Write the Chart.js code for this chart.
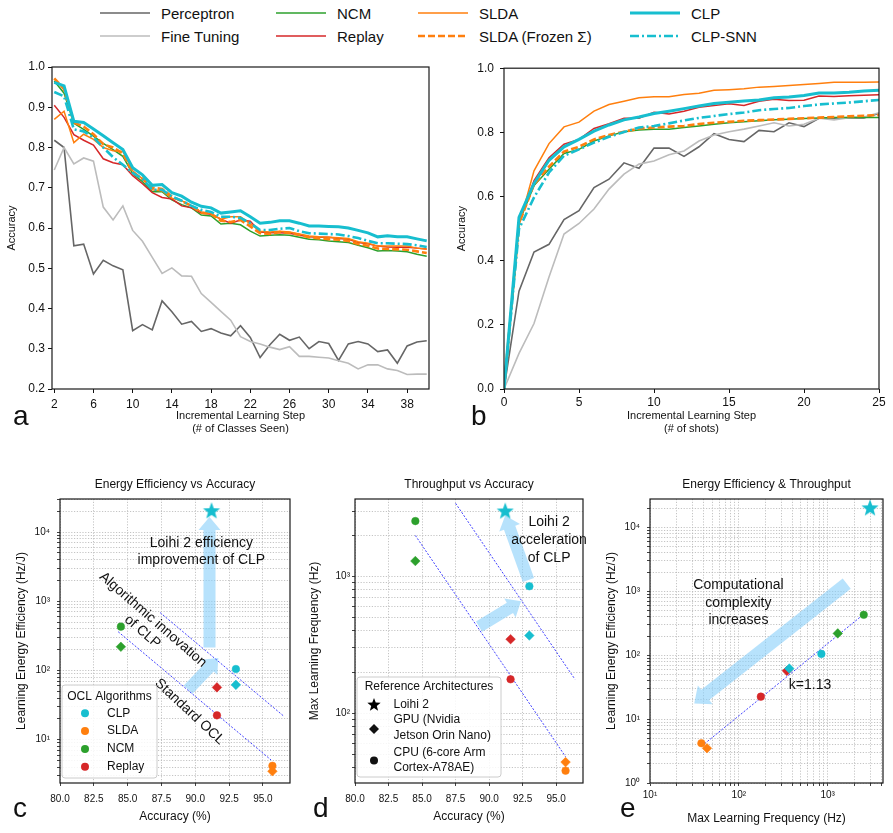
<!DOCTYPE html>
<html>
<head>
<meta charset="utf-8">
<title>Online continual learning: accuracy, efficiency, throughput</title>
<script src="https://cdn.jsdelivr.net/npm/chart.js"></script>
<style>
  body { margin: 0; background: #fff; }
  #fig { position: relative; width: 893px; height: 833px; overflow: hidden;
         font-family: "Liberation Sans", Arial, sans-serif; color: #111; }
  #fig canvas { position: absolute; }
  .key { position: absolute; height: 20px; display: flex; align-items: center; font-size: 15px; white-space: nowrap; }
  .key svg { margin-right: 11px; }
  .letter { position: absolute; font-size: 28px; line-height: 28px; }
</style>
</head>
<body>
<div id="fig">
  <canvas id="panelA" width="445" height="385" style="left:0;top:55px"></canvas>
  <canvas id="panelB" width="448" height="385" style="left:445px;top:55px"></canvas>
  <canvas id="panelC" width="300" height="363" style="left:0;top:470px"></canvas>
  <canvas id="panelD" width="293" height="363" style="left:300px;top:470px"></canvas>
  <canvas id="panelE" width="300" height="363" style="left:593px;top:470px"></canvas>
  <div class="letter" style="left:13px;top:402px">a</div>
  <div class="letter" style="left:471px;top:402px">b</div>
  <div class="letter" style="left:13px;top:794px">c</div>
  <div class="letter" style="left:313px;top:794px">d</div>
  <div class="letter" style="left:620px;top:794px">e</div>
</div>
<script>
// ---------- panel a: accuracy vs. classes seen ----------
const classSteps = [2,3,4,5,6,7,8,9,10,11,12,13,14,15,16,17,18,19,20,21,22,23,24,25,26,27,28,29,30,31,32,33,34,35,36,37,38,39,40];
const perceptronA = [0.818,0.800,0.556,0.560,0.486,0.520,0.506,0.496,0.345,0.360,0.347,0.419,0.392,0.361,0.368,0.343,0.350,0.339,0.332,0.357,0.328,0.278,0.310,0.336,0.321,0.329,0.300,0.318,0.313,0.271,0.312,0.318,0.312,0.293,0.297,0.264,0.307,0.317,0.320];
const fineTuningA = [0.744,0.800,0.759,0.774,0.766,0.652,0.620,0.655,0.594,0.567,0.527,0.487,0.501,0.481,0.480,0.437,0.415,0.393,0.371,0.330,0.318,0.312,0.304,0.298,0.305,0.281,0.281,0.279,0.277,0.270,0.264,0.250,0.260,0.260,0.250,0.246,0.236,0.237,0.237];
const ncmA = [0.965,0.935,0.860,0.845,0.828,0.810,0.795,0.778,0.735,0.715,0.690,0.690,0.670,0.658,0.650,0.632,0.630,0.610,0.612,0.608,0.592,0.580,0.582,0.583,0.582,0.577,0.572,0.571,0.568,0.566,0.564,0.557,0.551,0.543,0.544,0.543,0.541,0.535,0.530];
const replayA = [0.905,0.875,0.832,0.818,0.806,0.772,0.762,0.757,0.730,0.710,0.688,0.676,0.672,0.655,0.650,0.637,0.634,0.622,0.612,0.620,0.617,0.590,0.588,0.588,0.587,0.582,0.578,0.577,0.577,0.574,0.572,0.564,0.561,0.555,0.553,0.552,0.552,0.550,0.548];
const sldaA = [0.870,0.890,0.812,0.833,0.820,0.800,0.792,0.790,0.742,0.722,0.695,0.692,0.674,0.668,0.655,0.640,0.636,0.622,0.628,0.628,0.610,0.592,0.590,0.592,0.590,0.585,0.580,0.578,0.577,0.576,0.574,0.566,0.562,0.555,0.555,0.555,0.555,0.550,0.547];
const sldaFrozenA = [0.972,0.945,0.862,0.852,0.833,0.808,0.800,0.785,0.738,0.722,0.700,0.697,0.678,0.667,0.655,0.638,0.635,0.618,0.615,0.620,0.604,0.587,0.585,0.590,0.588,0.583,0.577,0.574,0.572,0.571,0.568,0.560,0.556,0.549,0.548,0.547,0.546,0.542,0.538];
const clpA = [0.962,0.953,0.865,0.862,0.846,0.829,0.812,0.795,0.750,0.732,0.706,0.708,0.688,0.679,0.664,0.654,0.650,0.637,0.640,0.643,0.628,0.612,0.614,0.618,0.618,0.612,0.605,0.605,0.604,0.603,0.600,0.594,0.588,0.578,0.581,0.578,0.578,0.573,0.568];
const clpSnnA = [0.938,0.927,0.845,0.840,0.825,0.800,0.776,0.757,0.737,0.722,0.695,0.695,0.678,0.668,0.655,0.645,0.640,0.628,0.628,0.625,0.612,0.595,0.595,0.598,0.600,0.592,0.587,0.586,0.585,0.584,0.580,0.575,0.568,0.562,0.562,0.561,0.560,0.557,0.553];
const classTicks = [2,6,10,14,18,22,26,30,34,38];
const accTicksA = [0.2,0.3,0.4,0.5,0.6,0.7,0.8,0.9,1.0];

// ---------- panel b: accuracy vs. shots ----------
const shots = [0,1,2,3,4,5,6,7,8,9,10,11,12,13,14,15,16,17,18,19,20,21,22,23,24,25];
const perceptronB = [0,0.305,0.427,0.451,0.528,0.556,0.628,0.654,0.705,0.688,0.751,0.751,0.725,0.755,0.796,0.778,0.771,0.806,0.802,0.830,0.818,0.844,0.844,0.846,0.845,0.859];
const fineTuningB = [0,0.111,0.204,0.349,0.483,0.516,0.561,0.623,0.670,0.701,0.711,0.730,0.742,0.773,0.792,0.802,0.810,0.820,0.830,0.820,0.825,0.844,0.839,0.846,0.848,0.861];
const ncmB = [0,0.520,0.634,0.685,0.734,0.747,0.773,0.789,0.802,0.807,0.810,0.810,0.815,0.820,0.825,0.830,0.833,0.836,0.839,0.841,0.843,0.845,0.846,0.846,0.846,0.846];
const replayB = [0,0.520,0.650,0.721,0.763,0.778,0.812,0.827,0.844,0.844,0.863,0.857,0.866,0.878,0.884,0.889,0.884,0.897,0.903,0.899,0.900,0.913,0.912,0.914,0.916,0.917];
const sldaB = [0,0.509,0.680,0.765,0.817,0.832,0.866,0.887,0.897,0.908,0.911,0.911,0.918,0.922,0.931,0.933,0.936,0.941,0.943,0.946,0.949,0.952,0.956,0.956,0.956,0.957];
const sldaFrozenB = [0,0.515,0.638,0.693,0.740,0.755,0.778,0.792,0.802,0.812,0.815,0.818,0.820,0.826,0.830,0.833,0.836,0.838,0.840,0.842,0.844,0.846,0.848,0.850,0.852,0.854];
const clpB = [0,0.535,0.641,0.713,0.755,0.778,0.804,0.823,0.839,0.848,0.859,0.866,0.874,0.882,0.890,0.894,0.898,0.901,0.908,0.910,0.915,0.923,0.923,0.925,0.929,0.931];
const clpSnnB = [0,0.499,0.597,0.675,0.727,0.747,0.768,0.786,0.801,0.815,0.820,0.828,0.837,0.845,0.851,0.857,0.862,0.869,0.873,0.876,0.882,0.887,0.890,0.893,0.897,0.901];
const shotTicks = [0,5,10,15,20,25];
const accTicksB = [0,0.2,0.4,0.6,0.8,1.0];

// ---------- panels c-e: hardware comparison ----------
const algoNames = ['CLP', 'SLDA', 'NCM', 'Replay'];
const algoAccuracy = [93.0, 95.7, 84.5, 91.6];   // %
const effCpu = [105, 4.2, 430, 22.5];            // Hz/J, CPU (circle)
const effGpu = [62, 3.5, 220, 57];               // Hz/J, GPU (diamond)
const freqCpu = [850, 37.9, 2550, 177];          // Hz
const freqGpu = [370, 43.8, 1300, 348];          // Hz
const loihiAccuracy = 91.2;
const loihiEfficiency = 20000;
const loihiFrequency = 3000;
const effTrendAcc = [[87.4, 96.55], [84.3, 95.6]];
const effTrendVal = [[686, 21.8], [363, 5.1]];
const freqTrendAcc = [[87.5, 96.4], [84.5, 95.7]];
const freqTrendVal = [[3440, 177], [2000, 48]];
const fitFreq = [38.3, 2550];
const fitEff = [3.8, 440];
const accPctTicks = [80, 82.5, 85, 87.5, 90, 92.5, 95];
const effDecades = [1, 10, 100, 1000, 10000];
const freqDecades = [1, 10, 100, 1000];
const archNames = [['Loihi 2'], ['GPU (Nvidia', 'Jetson Orin Nano)'], ['CPU (6-core Arm', 'Cortex-A78AE)']];

// ---------- styles ----------
const seriesNames = ['Perceptron', 'Fine Tuning', 'NCM', 'Replay', 'SLDA', 'SLDA (Frozen Σ)', 'CLP', 'CLP-SNN'];
const seriesColors = ['#666666', '#bcbcbc', '#2ca02c', '#d62728', '#ff7f0e', '#ff7f0e', '#17becf', '#17becf'];
const seriesWidths = [1.6, 1.6, 1.5, 1.5, 1.5, 2.6, 3, 2.6];
const seriesDash = [[], [], [], [], [], [7, 3], [], [9, 3, 2, 3]];
const algoColors = ['#17becf', '#ff7f0e', '#2ca02c', '#d62728'];
const FONT = '"Liberation Sans", Arial, sans-serif';

Chart.defaults.font.family = FONT;
Chart.defaults.color = '#111';
Chart.defaults.animation = false;
Chart.defaults.events = [];
Chart.defaults.plugins.legend.display = false;
Chart.defaults.plugins.tooltip.enabled = false;

// top legend (two rows, four columns)
const keyX = [100, 276, 418, 630];
const keyY = [13, 36];
const fig = document.getElementById('fig');
seriesNames.forEach((name, i) => {
  const item = document.createElement('div');
  item.className = 'key';
  item.style.left = keyX[Math.floor(i / 2)] + 'px';
  item.style.top = (keyY[i % 2] - 10) + 'px';
  item.innerHTML = '<svg width="50" height="8"><line x1="0" y1="4" x2="50" y2="4" stroke="' + seriesColors[i] +
    '" stroke-width="' + seriesWidths[i] + '" stroke-dasharray="' + seriesDash[i].join(' ') + '"/></svg><span>' + name + '</span>';
  fig.appendChild(item);
});

const frame = {
  id: 'frame',
  afterDraw(chart) {
    const { ctx, chartArea: a } = chart;
    ctx.save();
    ctx.strokeStyle = '#1a1a1a';
    ctx.lineWidth = 1.2;
    ctx.strokeRect(a.left, a.top, a.right - a.left, a.bottom - a.top);
    ctx.restore();
  }
};

const SUP = { '0': '⁰', '1': '¹', '2': '²', '3': '³', '4': '⁴' };
function pow10(v) {
  return '10' + String(Math.round(Math.log10(v))).split('').map(c => SUP[c]).join('');
}
function logTicks(decades, min, max) {
  const out = [];
  decades.forEach(d => { for (let m = 1; m < 10; m++) { const v = d * m; if (v >= min && v <= max) out.push(v); } });
  return out;
}

function makeAxis(o) {
  return {
    type: o.type || 'linear', min: o.min, max: o.max,
    afterBuildTicks: s => { s.ticks = o.ticks.map(v => ({ value: v })); },
    afterFit: s => { if (o.horizontal) s.height = o.fit; else s.width = o.fit; },
    ticks: { autoSkip: false, maxRotation: 0, minRotation: 0, padding: o.pad, font: { size: o.fontSize }, color: '#111', callback: o.fmt },
    grid: o.grid
      ? { drawOnChartArea: true, color: '#b5b5b5', lineWidth: 0.8, tickLength: 3, tickColor: '#111', tickWidth: 0.8 }
      : { drawOnChartArea: false, tickLength: 4, tickColor: '#111', tickWidth: 1 },
    border: { display: false, dash: o.grid ? [1.2, 1.6] : [] },
    title: { display: true, text: o.title, font: { size: o.titleSize }, color: '#111', padding: o.titlePad }
  };
}

function lineSets(xs, ys) {
  return seriesNames.map((name, i) => ({
    label: name,
    data: xs.map((x, k) => ({ x: x, y: ys[i][k] })),
    borderColor: seriesColors[i], borderWidth: seriesWidths[i], borderDash: seriesDash[i],
    pointRadius: 0, tension: 0, fill: false, order: seriesNames.length - i
  }));
}

// panel a
new Chart(document.getElementById('panelA'), {
  type: 'line',
  data: { datasets: lineSets(classSteps, [perceptronA, fineTuningA, ncmA, replayA, sldaA, sldaFrozenA, clpA, clpSnnA]) },
  options: {
    responsive: false, devicePixelRatio: 1,
    layout: { padding: { top: 12, right: 16, left: 0, bottom: 0 } },
    scales: {
      x: makeAxis({ min: 1.77, max: 40.23, ticks: classTicks, fmt: v => String(v), fontSize: 12, pad: 4, horizontal: true, fit: 51,
        title: ['Incremental Learning Step', '(# of Classes Seen)'], titleSize: 11, titlePad: { top: 0, bottom: 4.4 } }),
      y: makeAxis({ min: 0.2, max: 1.0, ticks: accTicksA, fmt: v => v.toFixed(1), fontSize: 12, pad: 3, fit: 52,
        title: 'Accuracy', titleSize: 11, titlePad: { top: 5.4, bottom: 0 } })
    }
  },
  plugins: [frame]
});

// panel b
new Chart(document.getElementById('panelB'), {
  type: 'line',
  data: { datasets: lineSets(shots, [perceptronB, fineTuningB, ncmB, replayB, sldaB, sldaFrozenB, clpB, clpSnnB]) },
  options: {
    responsive: false, devicePixelRatio: 1,
    layout: { padding: { top: 12, right: 14, left: 0, bottom: 0 } },
    scales: {
      x: makeAxis({ min: 0, max: 25, ticks: shotTicks, fmt: v => String(v), fontSize: 12, pad: 2, horizontal: true, fit: 51,
        title: ['Incremental Learning Step', '(# of shots)'], titleSize: 11, titlePad: { top: 0, bottom: 4.4 } }),
      y: makeAxis({ min: 0, max: 1.0, ticks: accTicksB, fmt: v => v.toFixed(1), fontSize: 12, pad: 6, fit: 59,
        title: 'Accuracy', titleSize: 11, titlePad: { top: 10, bottom: 0 } })
    }
  },
  plugins: [frame]
});

// ---------- scatter panels ----------
function starImage(color, r) {
  const c = document.createElement('canvas');
  const s = Math.ceil(r * 2 + 2);
  c.width = s; c.height = s;
  const g = c.getContext('2d');
  g.beginPath();
  for (let i = 0; i < 10; i++) {
    const rad = i % 2 ? r * 0.42 : r;
    const ang = -Math.PI / 2 + i * Math.PI / 5;
    g.lineTo(s / 2 + rad * Math.cos(ang), s / 2 + rad * Math.sin(ang));
  }
  g.closePath();
  g.fillStyle = color;
  g.fill();
  return c;
}
const starCyan = starImage('#17becf', 9);
const starBlack = starImage('#000000', 7);

function algoSets(xc, xg, yc, yg) {
  return algoNames.map((name, i) => ({
    label: name,
    data: [{ x: xc[i], y: yc[i] }, { x: xg[i], y: yg[i] }],
    pointStyle: ['circle', 'rectRot'],
    pointRadius: [3.8, 4.8],
    backgroundColor: algoColors[i], borderColor: algoColors[i], borderWidth: 0.5
  }));
}
function starSet(x, y) {
  return { label: 'Loihi 2', data: [{ x: x, y: y }], pointStyle: starCyan, pointRadius: 9 };
}
function trendSets(xs, ys) {
  return xs.map((xx, k) => ({
    data: xx.map((x, j) => ({ x: x, y: ys[k][j] })),
    showLine: true, pointRadius: 0, borderColor: '#2b2bff', borderWidth: 0.9, borderDash: [2, 1.6]
  }));
}

function drawArrow(ctx, x0, y0, x1, y1, w, hw, hl) {
  const dx = x1 - x0, dy = y1 - y0, len = Math.hypot(dx, dy);
  const ux = dx / len, uy = dy / len, nx = -uy, ny = ux;
  const bx = x1 - ux * hl, by = y1 - uy * hl;
  ctx.beginPath();
  ctx.moveTo(x0 + nx * w / 2, y0 + ny * w / 2);
  ctx.lineTo(bx + nx * w / 2, by + ny * w / 2);
  ctx.lineTo(bx + nx * hw / 2, by + ny * hw / 2);
  ctx.lineTo(x1, y1);
  ctx.lineTo(bx - nx * hw / 2, by - ny * hw / 2);
  ctx.lineTo(bx - nx * w / 2, by - ny * w / 2);
  ctx.lineTo(x0 - nx * w / 2, y0 - ny * w / 2);
  ctx.closePath();
  ctx.fill();
}

function notes(spec) {
  return {
    id: 'notes',
    beforeDatasetsDraw(chart) {
      const { ctx, scales: { x, y } } = chart;
      ctx.save();
      ctx.fillStyle = 'rgba(135, 206, 250, 0.6)';
      spec.arrows.forEach(a => drawArrow(ctx,
        x.getPixelForValue(a.from[0]), y.getPixelForValue(a.from[1]),
        x.getPixelForValue(a.to[0]), y.getPixelForValue(a.to[1]), a.w, a.head, a.len));
      ctx.restore();
    },
    afterDatasetsDraw(chart) {
      const { ctx, scales: { x, y } } = chart;
      ctx.save();
      ctx.fillStyle = '#111';
      ctx.textAlign = 'center';
      ctx.textBaseline = 'middle';
      ctx.font = '14px ' + FONT;
      spec.texts.forEach(t => {
        ctx.save();
        ctx.translate(x.getPixelForValue(t.at[0]), y.getPixelForValue(t.at[1]));
        ctx.rotate((t.rot || 0) * Math.PI / 180);
        t.lines.forEach((s, i) => ctx.fillText(s, 0, (i - (t.lines.length - 1) / 2) * t.lh));
        ctx.restore();
      });
      ctx.restore();
      if (spec.legend) spec.legend(chart);
    }
  };
}

function legendBox(ctx, left, top, w, h) {
  ctx.beginPath();
  if (ctx.roundRect) ctx.roundRect(left, top, w, h, 3); else ctx.rect(left, top, w, h);
  ctx.fillStyle = 'rgba(255,255,255,0.85)';
  ctx.fill();
  ctx.strokeStyle = '#cccccc';
  ctx.lineWidth = 1;
  ctx.stroke();
}

function algoLegend(chart) {
  const { ctx, chartArea: a } = chart;
  const left = a.left + 2, top = a.bottom - 98, w = 95, h = 93;
  ctx.save();
  legendBox(ctx, left, top, w, h);
  ctx.font = '12px ' + FONT;
  ctx.textBaseline = 'middle';
  ctx.textAlign = 'center';
  ctx.fillStyle = '#111';
  ctx.fillText('OCL Algorithms', left + w / 2, top + 12);
  ctx.textAlign = 'left';
  algoNames.forEach((name, i) => {
    const yy = top + 28.3 + i * 17.8;
    ctx.fillStyle = algoColors[i];
    ctx.beginPath();
    ctx.arc(left + 23, yy, 4, 0, 2 * Math.PI);
    ctx.fill();
    ctx.fillStyle = '#111';
    ctx.fillText(name, left + 45, yy);
  });
  ctx.restore();
}

function archLegend(chart) {
  const { ctx, chartArea: a } = chart;
  const left = a.left + 2, top = a.bottom - 106, w = 144, h = 100;
  ctx.save();
  legendBox(ctx, left, top, w, h);
  ctx.font = '12px ' + FONT;
  ctx.textBaseline = 'middle';
  ctx.textAlign = 'center';
  ctx.fillStyle = '#111';
  ctx.fillText('Reference Architectures', left + w / 2, top + 9.5);
  ctx.textAlign = 'left';
  const mx = left + 17;
  const markY = [top + 28, top + 52, top + 83.5];
  const textY = [[top + 28], [top + 43, top + 58.5], [top + 76, top + 90.5]];
  ctx.drawImage(starBlack, mx - starBlack.width / 2, markY[0] - starBlack.height / 2);
  ctx.beginPath();
  ctx.moveTo(mx, markY[1] - 5); ctx.lineTo(mx + 5, markY[1]); ctx.lineTo(mx, markY[1] + 5); ctx.lineTo(mx - 5, markY[1]);
  ctx.closePath();
  ctx.fill();
  ctx.beginPath();
  ctx.arc(mx, markY[2], 4, 0, 2 * Math.PI);
  ctx.fill();
  archNames.forEach((lines, i) => lines.forEach((s, j) => ctx.fillText(s, left + 36.5, textY[i][j])));
  ctx.restore();
}

const accAxis = (fit) => makeAxis({ min: 80, max: 97, ticks: accPctTicks, fmt: v => v.toFixed(1), fontSize: 10, pad: 7,
  horizontal: true, fit: fit, grid: true, title: 'Accuracy (%)', titleSize: 12, titlePad: { top: 0, bottom: 8.8 } });
const scatterTitle = (text) => ({ display: true, text: text, fullSize: false, font: { size: 12, weight: 'normal' },
  color: '#111', padding: { top: 7, bottom: 7.6 } });

// panel c
const effLabelsC = [10, 100, 1000, 10000];
new Chart(document.getElementById('panelC'), {
  type: 'scatter',
  data: { datasets: [starSet(loihiAccuracy, loihiEfficiency)]
    .concat(algoSets(algoAccuracy, algoAccuracy, effCpu, effGpu), trendSets(effTrendAcc, effTrendVal)) },
  options: {
    responsive: false, devicePixelRatio: 1,
    layout: { padding: { top: 0, right: 4, left: 0, bottom: 0 } },
    plugins: { title: scatterTitle('Energy Efficiency vs Accuracy') },
    scales: {
      x: accAxis(50),
      y: makeAxis({ type: 'logarithmic', min: 2.37, max: 30000, ticks: logTicks(effDecades, 2.37, 30000),
        fmt: v => effLabelsC.includes(v) ? pow10(v) : '', fontSize: 10, pad: 7, fit: 60, grid: true,
        title: 'Learning Energy Efficiency (Hz/J)', titleSize: 12, titlePad: { top: 14.8, bottom: 0 } })
    }
  },
  plugins: [frame, notes({
    arrows: [
      { from: [91.05, 214], to: [91.05, 16500], w: 12, head: 22, len: 13 },
      { from: [89.47, 53], to: [91.7, 152], w: 12, head: 22, len: 13 }
    ],
    texts: [
      { at: [90.45, 5200], lines: ['Loihi 2 efficiency', 'improvement of CLP'], lh: 17.4 },
      { at: [86.48, 443], lines: ['Algorithmic innovation', 'of CLP'], lh: 16, rot: 41 },
      { at: [89.58, 25.3], lines: ['Standard OCL'], lh: 16, rot: 43 }
    ],
    legend: algoLegend
  })]
});

// panel d
const freqLabelsD = [100, 1000];
new Chart(document.getElementById('panelD'), {
  type: 'scatter',
  data: { datasets: [starSet(loihiAccuracy, loihiFrequency)]
    .concat(algoSets(algoAccuracy, algoAccuracy, freqCpu, freqGpu), trendSets(freqTrendAcc, freqTrendVal)) },
  options: {
    responsive: false, devicePixelRatio: 1,
    layout: { padding: { top: 0, right: 1, left: 0, bottom: 0 } },
    plugins: { title: scatterTitle('Throughput vs Accuracy') },
    scales: {
      x: accAxis(50),
      y: makeAxis({ type: 'logarithmic', min: 30.8, max: 3700, ticks: logTicks(freqDecades, 30.8, 3700),
        fmt: v => freqLabelsD.includes(v) ? pow10(v) : '', fontSize: 10, pad: 2, fit: 55, grid: true,
        title: 'Max Learning Frequency (Hz)', titleSize: 12, titlePad: { top: 7.8, bottom: 0 } })
    }
  },
  plugins: [frame, notes({
    arrows: [
      { from: [89.25, 430], to: [92.38, 660], w: 12, head: 22, len: 13 },
      { from: [92.93, 945], to: [91.2, 2800], w: 12, head: 22, len: 13 }
    ],
    texts: [
      { at: [94.47, 1854], lines: ['Loihi 2', 'acceleration', 'of CLP'], lh: 17.8 }
    ],
    legend: archLegend
  })]
});

// panel e
const freqLabelsE = [10, 100, 1000];
const effLabelsE = [1, 10, 100, 1000, 10000];
new Chart(document.getElementById('panelE'), {
  type: 'scatter',
  data: { datasets: [starSet(loihiFrequency, loihiEfficiency)]
    .concat(algoSets(freqCpu, freqGpu, effCpu, effGpu), trendSets([fitFreq], [fitEff])) },
  options: {
    responsive: false, devicePixelRatio: 1,
    layout: { padding: { top: 0, right: 6, left: 0, bottom: 0 } },
    plugins: { title: scatterTitle('Energy Efficiency & Throughput') },
    scales: {
      x: makeAxis({ type: 'logarithmic', min: 10, max: 4200, ticks: logTicks(freqDecades, 10, 4200),
        fmt: v => freqLabelsE.includes(v) ? pow10(v) : '', fontSize: 10, pad: 3, horizontal: true, fit: 50, grid: true,
        title: 'Max Learning Frequency (Hz)', titleSize: 12, titlePad: { top: 0, bottom: 7.5 } }),
      y: makeAxis({ type: 'logarithmic', min: 1, max: 28000, ticks: logTicks(effDecades, 1, 28000),
        fmt: v => effLabelsE.includes(v) ? pow10(v) : '', fontSize: 10, pad: 7, fit: 57, grid: true,
        title: 'Learning Energy Efficiency (Hz/J)', titleSize: 12, titlePad: { top: 11.5, bottom: 0 } })
    }
  },
  plugins: [frame, notes({
    arrows: [
      { from: [1640, 1320], to: [31.5, 17.6], w: 13, head: 24, len: 14 }
    ],
    texts: [
      { at: [99, 666], lines: ['Computational', 'complexity', 'increases'], lh: 17.5 },
      { at: [633, 34], lines: ['k=1.13'], lh: 16 }
    ]
  })]
});
</script>
</body>
</html>
